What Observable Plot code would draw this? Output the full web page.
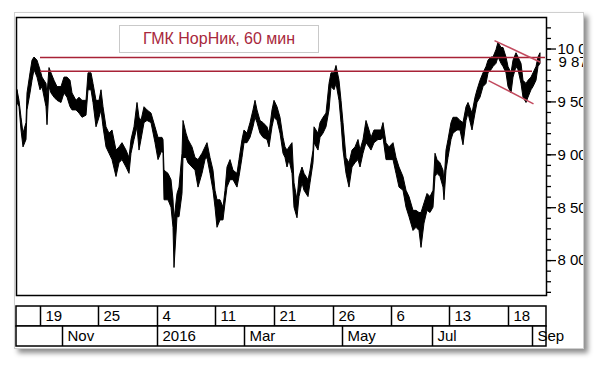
<!DOCTYPE html>
<html><head><meta charset="utf-8">
<script src="https://cdn.jsdelivr.net/npm/d3@7"></script>
<script src="https://cdn.jsdelivr.net/npm/@observablehq/plot@0.6"></script>
<style>
body{margin:0;background:#fff;width:600px;height:365px;overflow:hidden;font-family:"Liberation Sans",Arial,sans-serif;}
#panel{position:absolute;left:14px;top:12px;width:568px;height:335px;background:#fff;border:1px solid #cfcfcf;box-shadow:4px 4px 5px rgba(0,0,0,0.45);overflow:hidden;}
#inner{position:absolute;left:-15px;top:-13px;width:600px;height:365px;}
#main{position:absolute;left:0;top:0;}
#rows{position:absolute;left:0;top:304px;}
#title{position:absolute;left:119px;top:25px;width:200px;height:28px;box-sizing:border-box;border:1px solid #c9c9c9;color:#a8283c;font-size:16px;line-height:26px;text-align:center;background:#fff;white-space:nowrap;}
</style></head>
<body>
<div id="panel"><div id="inner"><div id="main"></div><div id="rows"></div><div id="title"></div></div></div>
<script>
const titleText = "ГМК НорНик, 60 мин";

// price series (60-min bars, sampled): bar number, high, low
const bar = [
1,3,5,7,10,11,14,16,18,21,
24,26,30,31,33,35,38,41,45,48,
51,54,56,60,63,66,70,72,75,77,
80,83,85,87,90,93,96,100,103,106,
110,113,115,118,121,123,125,128,131,135,
139,142,146,147,148,152,155,157,158,161,
163,166,167,170,172,176,179,182,186,189,
191,194,197,199,201,204,207,209,211,214,
217,221,223,226,228,231,234,237,239,241,
244,247,251,253,256,258,261,264,267,269,
271,273,276,278,281,283,286,288,292,294,
297,298,302,304,307,310,313,315,318,320,
323,325,327,330,333,336,339,342,344,347,
350,353,355,358,362,365,367,370,373,377,
380,383,387,390,393,397,400,403,405,408,
411,414,417,419,421,424,427,428,430,432,
435,437,441,444,447,450,452,456,459,461,
464,467,470,472,475,477,480,482,485,487,
490,492,495,497,500,502,505,507,510,512,
515,517,520,522,524];
const hi = [
9610,9510,9350,9200,9300,9580,9770,9890,9920,9890,
9800,9730,9670,9560,9820,9770,9700,9640,9640,9730,
9730,9700,9580,9510,9540,9510,9510,9770,9770,9670,
9510,9510,9610,9450,9260,9200,9230,9040,9070,9110,
9040,8970,9140,9260,9490,9350,9320,9450,9420,9390,
9260,9160,9160,9140,8850,8820,8760,8570,8380,8630,
8690,9010,9320,9200,9140,9070,8970,8950,9010,9070,
9110,8970,8850,8660,8570,8570,8500,8660,8880,8950,
8850,8820,8950,9140,9230,9200,9300,9420,9510,9420,
9320,9300,9260,9200,9420,9510,9450,9350,9160,9070,
9040,9070,9110,8730,8570,8790,8880,8820,8760,8850,
9040,9260,9200,9300,9350,9390,9670,9770,9770,9840,
9700,9510,9300,8970,8920,9040,9070,9140,9040,9140,
9320,9230,9160,9230,9230,9230,9300,9110,9070,9110,
8970,8880,8790,8660,8600,8470,8470,8450,8450,8540,
8630,8600,8660,9010,8950,8920,8850,8730,9040,9140,
9300,9350,9350,9320,9300,9450,9490,9390,9540,9610,
9700,9770,9830,9890,9920,9920,9990,10060,10010,10010,
9920,9830,9770,9890,9960,9920,9860,9700,9670,9700,
9730,9770,9830,9920,9960];
const lo = [
9490,9450,9230,9070,9140,9420,9580,9700,9800,9730,
9610,9640,9450,9280,9640,9580,9540,9510,9490,9580,
9540,9450,9420,9420,9390,9350,9370,9610,9610,9490,
9260,9350,9420,9260,9070,9010,8950,8790,8920,8950,
8880,8820,9010,9140,9260,9040,9140,9300,9320,9300,
9110,8950,9040,9010,8570,8570,8500,8310,7930,8410,
8410,8630,8970,8970,8920,8880,8850,8690,8820,8950,
8970,8820,8660,8500,8310,8380,8380,8540,8690,8760,
8760,8690,8790,8970,9110,9110,9160,9260,9350,9300,
9200,9160,9140,9070,9260,9350,9320,9200,9010,8970,
8880,8950,8820,8500,8400,8600,8730,8660,8600,8730,
8920,9110,9040,9160,9200,9260,9420,9640,9610,9670,
9510,9300,9040,8820,8690,8880,8920,8950,8880,9010,
9110,9070,9040,9110,9140,9140,9160,8950,8950,8950,
8820,8690,8660,8500,8410,8280,8310,8280,8120,8350,
8470,8450,8500,8790,8820,8790,8690,8570,8850,8970,
9140,9200,9230,9230,9090,9320,9390,9230,9390,9490,
9540,9640,9670,9770,9800,9830,9860,9920,9860,9830,
9770,9640,9580,9730,9830,9800,9670,9540,9490,9540,
9610,9640,9700,9830,9860];

const lastPrice = 9875;
const lastLabel = "9 875";

// horizontal resistance levels
const levelValues = [9920, 9790];
const levelFrom = [24, 24];
const levelTo = [529, 516];

// descending channel
const chanX1 = [478, 472];
const chanY1 = [10080, 9702];
const chanX2 = [524, 517];
const chanY2 = [9875, 9482];

// axes
const xDomain = [0, 530];
const yDomain = [7670, 10298];
const yTicks = [8000, 8500, 9000, 9500, 10000];
const yTickLabels = ["8 000", "8 500", "9 000", "9 500", "10 000"];
const yMinorTicks = d3.range(7700, 10300, 100);
const daySeps = [24, 82, 141, 199, 258, 317, 375, 433, 492];
const dayLabels = ["19", "25", "4", "11", "21", "26", "6", "13", "18"];
const monthSeps = [46, 141, 228, 326, 416, 516];
const monthLabels = ["Nov", "2016", "Mar", "May", "Jul", "Sep"];

const prices = bar.map((b, i) => ({bar: b, hi: hi[i], lo: lo[i]}));
const levels = levelValues.map((v, i) => ({v, x1: levelFrom[i], x2: levelTo[i]}));
const channel = chanX1.map((x, i) => ({x1: x, y1: chanY1[i], x2: chanX2[i], y2: chanY2[i]}));
const dayRows = daySeps.map((s, i) => ({s, row: "d", label: dayLabels[i]}));
const monthRows = monthSeps.map((s, i) => ({s, row: "m", label: monthLabels[i]}));

const font = '"Liberation Sans", Arial, sans-serif';
document.getElementById("title").textContent = titleText;

const main = Plot.plot({
  width: 600, height: 300,
  marginLeft: 16, marginRight: 54, marginTop: 17, marginBottom: 5,
  style: {fontFamily: font, fontSize: "15px", color: "black", background: "transparent", overflow: "visible"},
  x: {domain: xDomain, axis: null},
  y: {domain: yDomain},
  marks: [
    Plot.axisY({ticks: yMinorTicks, anchor: "right", tickSize: 4, tickFormat: () => "", stroke: "black", strokeWidth: 1.3}),
    Plot.axisY({ticks: yTicks, anchor: "right", tickSize: 9, tickPadding: 2, tickFormat: d => yTickLabels[yTicks.indexOf(d)], stroke: "black", strokeWidth: 1.3, fill: "black"}),
    Plot.areaY(prices, {x: "bar", y1: "lo", y2: "hi", fill: "black", stroke: "black", strokeWidth: 1}),
    Plot.ruleY(levels, {y: "v", x1: "x1", x2: "x2", stroke: "#a82236", strokeWidth: 1.3}),
    Plot.link(channel, {x1: "x1", y1: "y1", x2: "x2", y2: "y2", stroke: "#c24a5e", strokeWidth: 1.5}),
    Plot.frame({stroke: "black", strokeWidth: 1.5}),
    Plot.text([lastPrice], {y: d => d, frameAnchor: "right", text: () => lastLabel, dx: 12, textAnchor: "start", fill: "black", className: "lastp"})
  ]
});
document.getElementById("main").appendChild(main);
const lt = main.querySelector("g.lastp text");
if (lt) {
  const bb = lt.getBBox();
  const r = document.createElementNS("http://www.w3.org/2000/svg", "rect");
  r.setAttribute("x", bb.x - 3); r.setAttribute("y", bb.y - 1);
  r.setAttribute("width", bb.width + 6); r.setAttribute("height", bb.height + 2);
  r.setAttribute("fill", "white"); r.setAttribute("stroke", "black"); r.setAttribute("stroke-width", "1.3");
  lt.parentNode.insertBefore(r, lt);
}

const rows = Plot.plot({
  width: 600, height: 43,
  marginLeft: 16, marginRight: 54, marginTop: 1, marginBottom: 1,
  style: {fontFamily: font, fontSize: "15px", color: "black", background: "transparent", overflow: "visible"},
  x: {domain: xDomain, axis: null},
  y: {domain: ["d", "m"], axis: null, padding: 0},
  marks: [
    Plot.barX(["d", "m"], {x1: () => xDomain[0], x2: () => xDomain[1], y: d => d, fill: "white", stroke: "black", strokeWidth: 1.5}),
    Plot.tickX(dayRows, {x: "s", y: "row", stroke: "black", strokeWidth: 1.5}),
    Plot.tickX(monthRows, {x: "s", y: "row", stroke: "black", strokeWidth: 1.5}),
    Plot.text(dayRows, {x: "s", y: "row", text: "label", dx: 5, textAnchor: "start", fill: "black"}),
    Plot.text(monthRows, {x: "s", y: "row", text: "label", dx: 5, textAnchor: "start", fill: "black"})
  ]
});
document.getElementById("rows").appendChild(rows);
</script>
</body></html>
